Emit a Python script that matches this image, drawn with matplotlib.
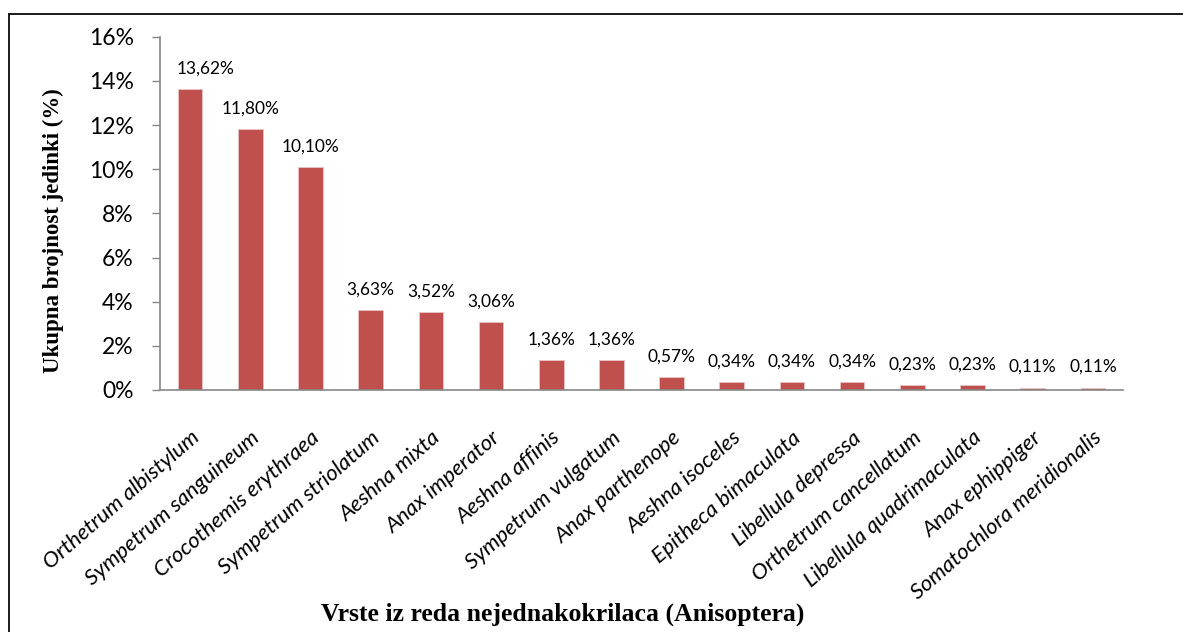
import matplotlib
matplotlib.use("Agg")
import matplotlib.pyplot as plt
from matplotlib.lines import Line2D
from matplotlib.ticker import FuncFormatter

species = ["Orthetrum albistylum", "Sympetrum sanguineum", "Crocothemis erythraea",
           "Sympetrum striolatum", "Aeshna mixta", "Anax imperator", "Aeshna affinis",
           "Sympetrum vulgatum", "Anax parthenope", "Aeshna isoceles",
           "Epitheca bimaculata", "Libellula depressa", "Orthetrum cancellatum",
           "Libellula quadrimaculata", "Anax ephippiger", "Somatochlora meridionalis"]
values = [13.62, 11.80, 10.10, 3.63, 3.52, 3.06, 1.36, 1.36, 0.57, 0.34,
          0.34, 0.34, 0.23, 0.23, 0.11, 0.11]
yticks = [0, 2, 4, 6, 8, 10, 12, 14, 16]

W, H = 1183, 632
fig = plt.figure(figsize=(W / 100, H / 100), dpi=100)
ax = fig.add_axes([160 / W, 1 - 390 / H, (1123 - 160) / W, (390 - 36.7) / H])

x = list(range(len(species)))
ax.bar(x, values, width=0.41, color="#C0504D", edgecolor="#E8C4C3", linewidth=0.6)
ax.set_xlim(-0.5, len(species) - 0.5)
ax.set_ylim(0, 16)
ax.set_yticks(yticks)
ax.yaxis.set_major_formatter(FuncFormatter(lambda v, p: f"{int(round(v))}%"))

for i, (xi, v) in enumerate(zip(x, values)):
    # first label is pushed right so it stays inside the plot area (as in Excel)
    dx = 11 if i == 0 else 0
    ax.annotate(f"{v:.2f}%".replace(".", ","), (xi, v), xytext=(dx, 9),
                textcoords="offset points", ha="center", va="bottom",
                fontsize=12.5, family="Lato")

ax.set_xticks(x)
ax.set_xticklabels(species, rotation=41, ha="right", rotation_mode="anchor",
                   fontsize=16, style="italic", family="Lato")
ax.tick_params(axis="x", length=0, pad=27)
ax.tick_params(axis="y", length=6, width=1, color="#878787", labelsize=16.5, pad=13)
for lbl in ax.get_yticklabels():
    lbl.set_family("Lato")

for s in ["top", "right"]:
    ax.spines[s].set_visible(False)
for s in ["left", "bottom"]:
    ax.spines[s].set_color("#878787")
    ax.spines[s].set_linewidth(1.2)

fig.text(53 / W, 1 - 231 / H, "Ukupna brojnost jedinki (%)", rotation=90,
         ha="center", va="center", fontsize=16.5, fontweight="bold",
         family="Liberation Serif")
fig.text(563 / W, 1 - 614 / H, "Vrste iz reda nejednakokrilaca (Anisoptera)",
         ha="center", va="center", fontsize=18.5, fontweight="bold",
         family="Liberation Serif")

fig.add_artist(Line2D([8.5 / W, 8.5 / W], [0, 1 - 14 / H], transform=fig.transFigure,
                      color="#1a1a1a", lw=1.4))
fig.add_artist(Line2D([8.5 / W, 1182 / W], [1 - 14 / H, 1 - 14 / H],
                      transform=fig.transFigure, color="#1a1a1a", lw=1.4))

fig.savefig("out.png", dpi=100)
